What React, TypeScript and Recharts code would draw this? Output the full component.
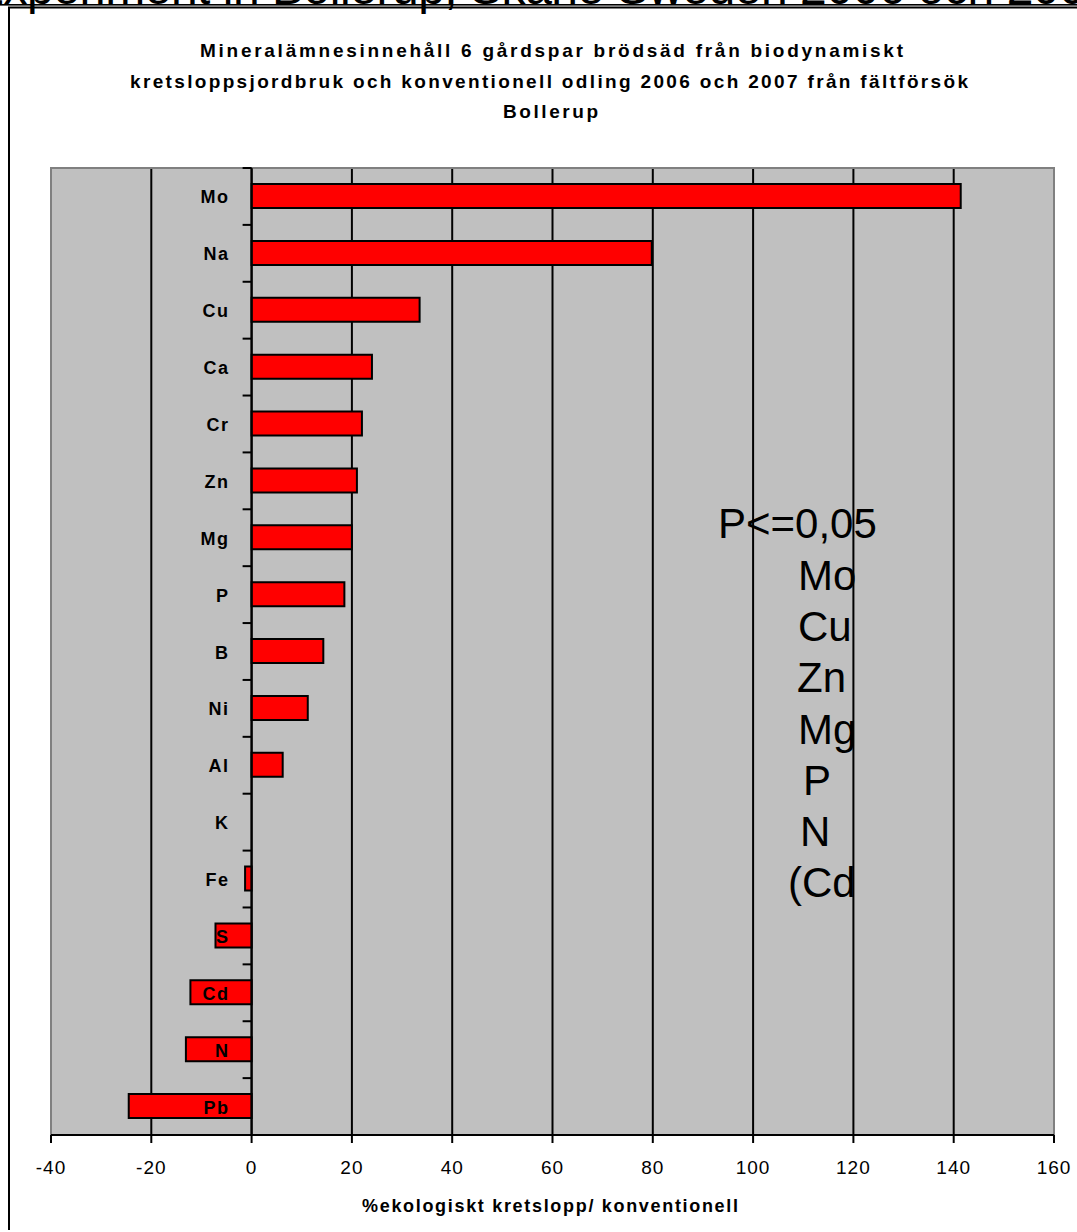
import { BarChart, Bar, XAxis, YAxis, CartesianGrid, ReferenceLine, ReferenceArea } from 'recharts'

// element order top to bottom, value = % ecological cycle vs conventional
const elements = ['Mo', 'Na', 'Cu', 'Ca', 'Cr', 'Zn', 'Mg', 'P', 'B', 'Ni', 'Al', 'K', 'Fe', 'S', 'Cd', 'N', 'Pb']
const diffPct = [141.4, 79.8, 33.5, 24, 22, 21, 20, 18.5, 14.3, 11.2, 6.2, 0, -1.3, -7.2, -12.2, -13.1, -24.5]
const xTicks = [-40, -20, 0, 20, 40, 60, 80, 100, 120, 140, 160]
const significant = ['Mo', 'Cu', 'Zn', 'Mg', 'P', 'N', '(Cd']

const titleLines = [
  'Mineralämnesinnehåll 6 gårdspar brödsäd från biodynamiskt',
  'kretsloppsjordbruk och konventionell odling 2006 och 2007 från fältförsök',
  'Bollerup',
]
const bannerText = 'Experiment in Bollerup, Skåne Sweden 2006 och 2007'
const axisTitle = '%ekologiskt kretslopp/ konventionell'

const W = 1077
const H = 1232
const PLOT = { left: 51, top: 168, right: 1054, bottom: 1135 }
const X_DOMAIN: [number, number] = [-40, 160]
const XAXIS_H = 40
const FONT = '"Liberation Sans", Arial, sans-serif'

const data = elements.map((name, i) => ({ name, value: diffPct[i] }))

const zeroX =
  PLOT.left + ((0 - X_DOMAIN[0]) / (X_DOMAIN[1] - X_DOMAIN[0])) * (PLOT.right - PLOT.left)
const band = (PLOT.bottom - PLOT.top) / elements.length

function ElementTick(props: any) {
  const { y, payload, index } = props
  const last = index === elements.length - 1
  return (
    <g>
      <line x1={zeroX - 9} x2={zeroX} y1={y - band / 2} y2={y - band / 2} stroke="#000" strokeWidth={2} />
      {last && (
        <line x1={zeroX - 9} x2={zeroX} y1={y + band / 2} y2={y + band / 2} stroke="#000" strokeWidth={2} />
      )}
      <text
        x={zeroX - 22}
        y={y}
        dy={7}
        textAnchor="end"
        fontFamily={FONT}
        fontWeight="bold"
        fontSize={18}
        letterSpacing={1.5}
        fill="#000"
      >
        {payload.value}
      </text>
    </g>
  )
}

function PercentTick(props: any) {
  const { x, y, payload } = props
  return (
    <text
      x={x}
      y={y}
      dy={29}
      textAnchor="middle"
      fontFamily={FONT}
      fontSize={19}
      letterSpacing={1}
      fill="#000"
    >
      {payload.value}
    </text>
  )
}

export default function App() {
  return (
    <div
      style={{
        position: 'absolute',
        left: 0,
        top: 0,
        width: W,
        height: H,
        overflow: 'hidden',
        background: '#fff',
      }}
    >
      <BarChart
        width={W}
        height={H}
        data={data}
        layout="vertical"
        barSize={24}
        margin={{ top: PLOT.top, right: W - PLOT.right, left: PLOT.left - 1, bottom: H - PLOT.bottom - XAXIS_H }}
      >
        <CartesianGrid horizontal={false} stroke="#000" strokeWidth={2} fill="#C0C0C0" fillOpacity={1} />
        <ReferenceArea x1={-40} x2={160} fill="none" stroke="#808080" strokeWidth={2} />
        <Bar dataKey="value" fill="#FF0000" stroke="#000" strokeWidth={2} isAnimationActive={false} />
        <ReferenceLine x={0} stroke="#000" strokeWidth={2} />
        <XAxis
          type="number"
          domain={X_DOMAIN}
          ticks={xTicks}
          interval={0}
          height={XAXIS_H}
          axisLine={{ stroke: '#000', strokeWidth: 2 }}
          tickLine={{ stroke: '#000', strokeWidth: 2 }}
          tickSize={8}
          tick={<PercentTick />}
        />
        <YAxis
          type="category"
          dataKey="name"
          width={1}
          interval={0}
          axisLine={false}
          tickLine={false}
          tick={<ElementTick />}
        />
      </BarChart>

      <svg
        width={W}
        height={H}
        style={{ position: 'absolute', left: 0, top: 0, pointerEvents: 'none' }}
      >
        {/* clipped heading above the chart frame */}
        <text x={-28} y={3.5} fontFamily={FONT} fontSize={48} textLength={1140} lengthAdjust="spacing" fill="#000">
          {bannerText}
        </text>
        <rect x={0} y={4} width={W} height={1.6} fill="#000" />

        {/* chart frame */}
        <path d={`M 9 1230 L 9 7.5 L ${W + 5} 7.5`} fill="none" stroke="#000" strokeWidth={2} />

        <g fontFamily={FONT} fontWeight="bold" fill="#000">
          <text x={200} y={57} fontSize={19} textLength={703} lengthAdjust="spacing">{titleLines[0]}</text>
          <text x={130} y={88} fontSize={19} textLength={838} lengthAdjust="spacing">{titleLines[1]}</text>
          <text x={503} y={118} fontSize={19} textLength={95} lengthAdjust="spacing">{titleLines[2]}</text>
          <text x={362} y={1212} fontSize={18} textLength={376} lengthAdjust="spacing">{axisTitle}</text>
        </g>

        <g fontFamily={FONT} fontSize={42} fill="#000">
          <text x={718} y={538}>P&lt;=0,05</text>
          {significant.map((s, i) => (
            <text key={s} x={[798, 798, 797, 798, 803, 800, 788][i]} y={590 + i * 51.2}>
              {s}
            </text>
          ))}
        </g>
      </svg>
    </div>
  )
}
